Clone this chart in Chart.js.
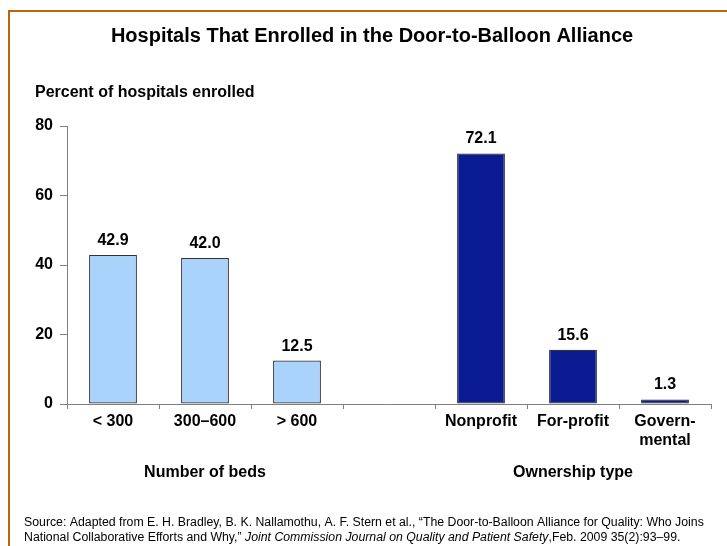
<!DOCTYPE html>
<html>
<head>
<meta charset="utf-8">
<script src="https://cdn.jsdelivr.net/npm/chart.js@4"></script>
<style>
  html, body { margin: 0; padding: 0; background: #fff; }
  #wrap { width: 727px; height: 546px; position: relative; }
</style>
</head>
<body>
<div id="wrap"><canvas id="chart" width="727" height="546"></canvas></div>
<script>
// --- Data ---
const categories = ['< 300', '300\u2013600', '> 600', '', 'Nonprofit', 'For-profit', ['Govern-', 'mental']];
const percentEnrolled = [42.9, 42.0, 12.5, null, 72.1, 15.6, 1.3];
const yTicks = [0, 20, 40, 60, 80];
const groupLabels = ['Number of beds', 'Ownership type'];
const groupSpans = [[0, 2], [4, 6]]; // category index ranges for each group

const LIGHT = '#a9d3fb';
const NAVY = '#0b1b92';
const barColors = percentEnrolled.map((v, i) => i < 3 ? LIGHT : NAVY);
const FONT = '"Liberation Sans", Arial, sans-serif';

// Frame, title, axis label, group labels, source note
const decorPlugin = {
    id: 'decor',
    beforeDraw(chart) {
        const ctx = chart.ctx;
        ctx.save();
        ctx.fillStyle = '#fff';
        ctx.fillRect(0, 0, chart.width, chart.height);
        ctx.strokeStyle = '#b6660c';
        ctx.lineWidth = 2;
        ctx.strokeRect(9, 11, 740, 560);
        ctx.restore();
    },
    afterDraw(chart) {
        const ctx = chart.ctx;
        const x = chart.scales.x;
        ctx.save();
        ctx.fillStyle = '#000';
        ctx.textBaseline = 'middle';

        ctx.textAlign = 'center';
        ctx.font = 'bold 20px ' + FONT;
        ctx.fillText('Hospitals That Enrolled in the Door-to-Balloon Alliance', 372, 36);

        ctx.textAlign = 'left';
        ctx.font = 'bold 16px ' + FONT;
        ctx.fillText('Percent of hospitals enrolled', 35, 93);

        ctx.textAlign = 'center';
        const half = (x.getPixelForValue(1) - x.getPixelForValue(0)) / 2;
        groupSpans.forEach((span, i) => {
            const cx = (x.getPixelForValue(span[0]) - half + x.getPixelForValue(span[1]) + half) / 2;
            ctx.fillText(groupLabels[i], cx, 473);
        });

        // value labels above the bars
        ctx.textBaseline = 'alphabetic';
        chart.getDatasetMeta(0).data.forEach((bar, i) => {
            const v = percentEnrolled[i];
            if (v === null) return;
            ctx.fillText(v.toFixed(1), bar.x, bar.y - 10);
        });

        ctx.textAlign = 'left';
        ctx.textBaseline = 'middle';
        ctx.font = '12.3px ' + FONT;
        ctx.fillText('Source: Adapted from E. H. Bradley, B. K. Nallamothu, A. F. Stern et al., \u201cThe Door-to-Balloon Alliance for Quality: Who Joins', 24, 523);
        const p1 = 'National Collaborative Efforts and Why,\u201d ';
        ctx.fillText(p1, 24, 538);
        let cx = 24 + ctx.measureText(p1).width;
        ctx.font = 'italic 12.3px ' + FONT;
        const p2 = 'Joint Commission Journal on Quality and Patient Safety';
        ctx.fillText(p2, cx, 538);
        cx += ctx.measureText(p2).width;
        ctx.font = '12.3px ' + FONT;
        ctx.fillText(',Feb. 2009 35(2):93\u201399.', cx, 538);
        ctx.restore();
    }
};

document.addEventListener('DOMContentLoaded', () => {
    Chart.defaults.font.family = FONT;
    Chart.defaults.color = '#000';

    const ctx = document.getElementById('chart').getContext('2d');
    new Chart(ctx, {
        type: 'bar',
        data: {
            labels: categories,
            datasets: [{
                data: percentEnrolled,
                backgroundColor: barColors,
                borderColor: '#333',
                borderWidth: 1.2,
                borderSkipped: false,
                categoryPercentage: 1,
                barPercentage: 0.52
            }]
        },
        options: {
            responsive: false,
            animation: false,
            layout: { padding: { top: 126, right: 16, left: 0, bottom: 0 } },
            plugins: { legend: { display: false }, tooltip: { enabled: false } },
            scales: {
                x: {
                    afterFit: (s) => { s.height = 142; },
                    grid: {
                        offset: true,
                        drawOnChartArea: false,
                        tickLength: 5,
                        color: '#808080'
                    },
                    border: { color: '#808080', width: 1 },
                    ticks: {
                        font: { size: 16, weight: 'bold' },
                        padding: 3,
                        maxRotation: 0,
                        autoSkip: false
                    }
                },
                y: {
                    min: 0,
                    max: 80,
                    afterFit: (s) => { s.width = 67; },
                    afterBuildTicks: (s) => { s.ticks = yTicks.map(v => ({ value: v })); },
                    grid: {
                        drawOnChartArea: false,
                        tickLength: 7,
                        color: '#808080'
                    },
                    border: { color: '#808080', width: 1 },
                    ticks: {
                        font: { size: 16, weight: 'bold' },
                        padding: 7
                    }
                }
            }
        },
        plugins: [decorPlugin]
    });
});
</script>
</body>
</html>
